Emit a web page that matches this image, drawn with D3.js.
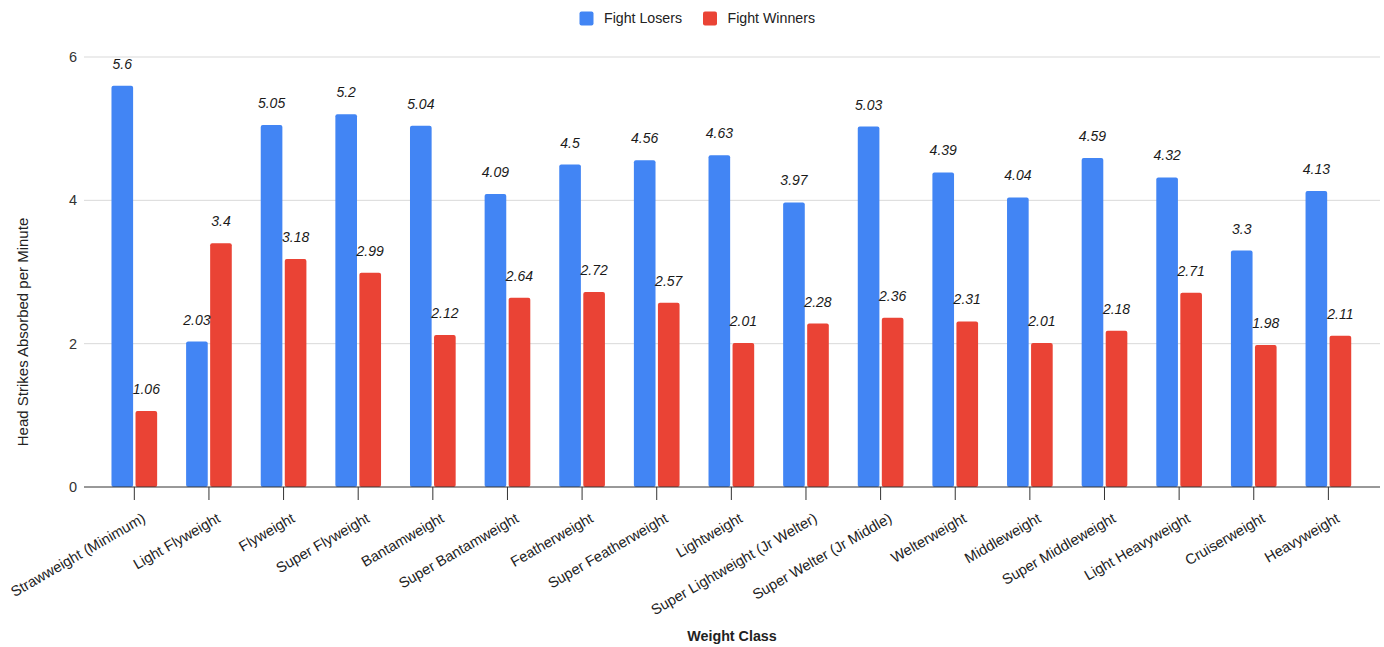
<!DOCTYPE html>
<html>
<head>
<meta charset="utf-8">
<script src="https://cdn.jsdelivr.net/npm/d3@7"></script>
<style>
  html, body { margin: 0; padding: 0; background: #fff; }
  svg { display: block; font-family: "Liberation Sans", Arial, sans-serif; }
</style>
</head>
<body>
<svg id="chart" width="1384" height="647"></svg>
<script>
const categories = [
  "Strawweight (Minimum)", "Light Flyweight", "Flyweight", "Super Flyweight",
  "Bantamweight", "Super Bantamweight", "Featherweight", "Super Featherweight",
  "Lightweight", "Super Lightweight (Jr Welter)", "Super Welter (Jr Middle)",
  "Welterweight", "Middleweight", "Super Middleweight", "Light Heavyweight",
  "Cruiserweight", "Heavyweight"
];
const seriesNames = ["Fight Losers", "Fight Winners"];
const fightLosers = [5.6, 2.03, 5.05, 5.2, 5.04, 4.09, 4.5, 4.56, 4.63, 3.97, 5.03, 4.39, 4.04, 4.59, 4.32, 3.3, 4.13];
const fightWinners = [1.06, 3.4, 3.18, 2.99, 2.12, 2.64, 2.72, 2.57, 2.01, 2.28, 2.36, 2.31, 2.01, 2.18, 2.71, 1.98, 2.11];
const yTicks = [0, 2, 4, 6];
const colors = ["#4285F4", "#EA4335"];
const xTitle = "Weight Class";
const yTitle = "Head Strikes Absorbed per Minute";

const svg = d3.select("#chart");
const plotLeft = 84, plotRight = 1380;
const bandLeft = 97, bandRight = 1365.7;
const yTop = 57, yBottom = 487;

const x0 = d3.scaleBand().domain(categories).range([bandLeft, bandRight]).paddingInner(0.388).paddingOuter(0.194);
const x1 = d3.scaleBand().domain(seriesNames).range([0, x0.bandwidth()]).paddingInner(0.1);
const y = d3.scaleLinear().domain([0, 6]).range([yBottom, yTop]);

// gridlines
svg.append("g").selectAll("line").data(yTicks.filter(t => t !== 0)).join("line")
  .attr("x1", plotLeft).attr("x2", plotRight)
  .attr("y1", d => y(d)).attr("y2", d => y(d))
  .attr("stroke", "#d9d9d9").attr("stroke-width", 1);

// y tick labels
svg.append("g").selectAll("text").data(yTicks).join("text")
  .attr("x", 77).attr("y", d => y(d)).attr("dy", "0.35em")
  .attr("text-anchor", "end").attr("font-size", 14.5).attr("fill", "#333")
  .text(d => d);

// bars
const data = categories.map((c, i) => ({ cat: c, vals: [fightLosers[i], fightWinners[i]] }));
const groups = svg.append("g").selectAll("g").data(data).join("g")
  .attr("transform", d => `translate(${x0(d.cat)},0)`);
groups.selectAll("rect").data(d => d.vals.map((v, j) => ({ name: seriesNames[j], v, j }))).join("rect")
  .attr("x", d => x1(d.name)).attr("width", x1.bandwidth())
  .attr("y", d => y(d.v)).attr("height", d => y(0) - y(d.v))
  .attr("rx", 2).attr("fill", d => colors[d.j]);
groups.selectAll("text").data(d => d.vals.map((v, j) => ({ name: seriesNames[j], v, j }))).join("text")
  .attr("x", d => x1(d.name) + x1.bandwidth() / 2)
  .attr("y", d => y(d.v) - 17)
  .attr("text-anchor", "middle").attr("font-size", 14).attr("font-style", "italic")
  .attr("fill", "#1a1a1a")
  .text(d => d.v);

// x axis baseline and ticks
svg.append("line").attr("x1", plotLeft).attr("x2", plotRight)
  .attr("y1", y(0)).attr("y2", y(0)).attr("stroke", "#333").attr("stroke-width", 1);
const xa = svg.append("g");
xa.selectAll("line").data(categories).join("line")
  .attr("x1", d => x0(d) + x0.bandwidth() / 2).attr("x2", d => x0(d) + x0.bandwidth() / 2)
  .attr("y1", y(0)).attr("y2", y(0) + 13).attr("stroke", "#333");
xa.selectAll("text").data(categories).join("text")
  .attr("transform", d => `translate(${x0(d) + x0.bandwidth() / 2 + 7},${512}) rotate(-30)`)
  .attr("dy", "0.72em").attr("text-anchor", "end").attr("font-size", 14.6).attr("fill", "#222")
  .text(d => d);

// axis titles
svg.append("text").attr("x", (plotLeft + plotRight) / 2).attr("y", 641)
  .attr("text-anchor", "middle").attr("font-size", 14.3).attr("font-weight", "bold").attr("fill", "#222")
  .text(xTitle);
svg.append("text").attr("transform", "translate(28,332) rotate(-90)")
  .attr("text-anchor", "middle").attr("font-size", 15).attr("fill", "#222")
  .text(yTitle);

// legend
const legendItems = [{ name: seriesNames[0], x: 579.5 }, { name: seriesNames[1], x: 703 }];
const lg = svg.append("g").selectAll("g").data(legendItems).join("g")
  .attr("transform", d => `translate(${d.x},11.5)`);
lg.append("rect").attr("width", 14).attr("height", 14).attr("rx", 2)
  .attr("fill", (d, i) => colors[i]);
lg.append("text").attr("x", 24.5).attr("y", 7).attr("dy", "0.35em")
  .attr("font-size", 14.2).attr("fill", "#222").text(d => d.name);
</script>
</body>
</html>
